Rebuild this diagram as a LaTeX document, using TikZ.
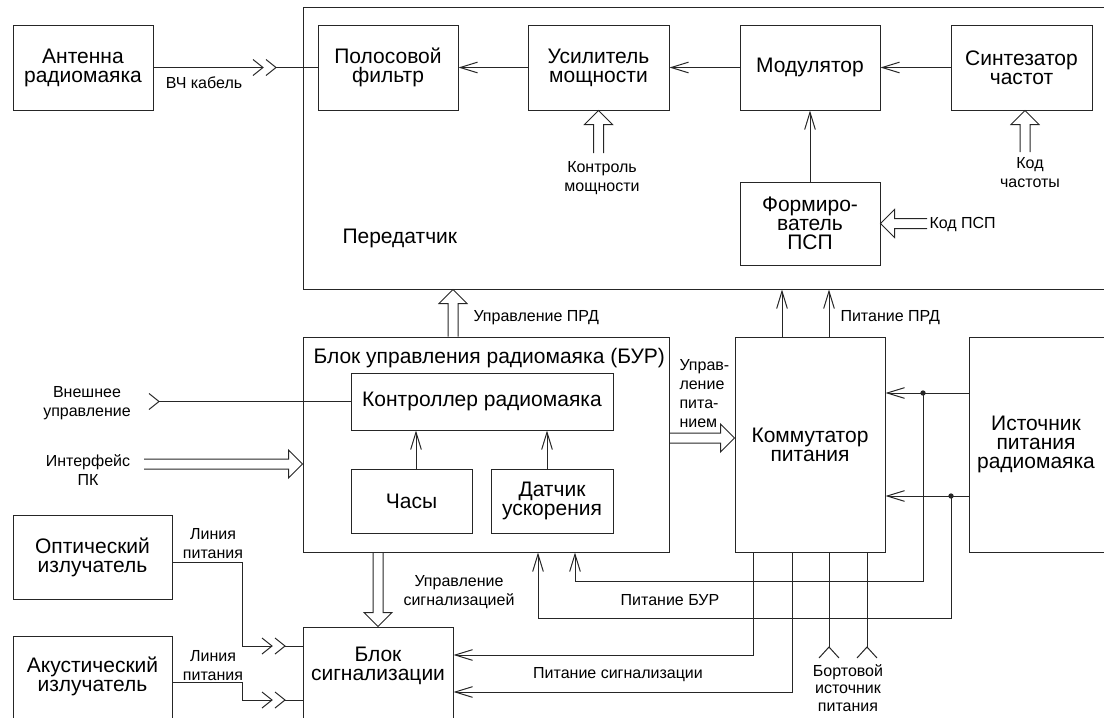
\documentclass[tikz,border=0pt]{standalone}
\usepackage{fontspec}
\setmainfont{Liberation Sans}
\usetikzlibrary{arrows.meta,calc,fit}
\newcommand\fbig{\fontsize{15.75}{14.25}\selectfont}
\newcommand\fsmall{\fontsize{12}{14.25}\selectfont}
\newcommand\hollow[2]{%
  \coordinate (hh) at ($(#2)!10.5pt!(#1)$);
  \draw ($(#1)!3.75pt!90:(#2)$) -- ($(hh)!3.75pt!-90:(#1)$) -- ($(hh)!10.5pt!-90:(#1)$) -- (#2) -- ($(hh)!10.5pt!90:(#1)$) -- ($(hh)!3.75pt!90:(#1)$) -- ($(#1)!3.75pt!-90:(#2)$);
}
\newcommand\chevR[1]{\draw ($(#1)+(-10,-8)$) -- (#1) -- ($(#1)+(-10,8)$);}
\newcommand\chevU[1]{\draw ($(#1)+(-10,11)$) -- (#1) -- ($(#1)+(10,11)$);}
% box: name, x1, y1, x2, y2, text
\newcommand\bx[6]{%
  \node[box, fit={(#2,#3)(#4,#5)}] (#1) {};
  \node[bt] (#1-t) at (#1.center) {#6};
}
\begin{document}
\begin{tikzpicture}[x=0.75pt,y=-0.75pt,line width=0.75pt,draw=black!85,
  box/.style={draw, rectangle, inner sep=0pt},
  bt/.style={inner sep=0pt, align=center, font=\fbig},
  sm/.style={inner sep=0pt, align=center, font=\fsmall},
  arr/.style={-{Straight Barb[length=13pt,width=8pt]}},
  dot/.style={circle, fill=black!85, inner sep=0pt, minimum size=4pt}]
\useasboundingbox (0,0) rectangle (1104,718);
\begin{scope}
\clip (0,0) rectangle (1104,718);
% boxes
\bx{ant}{13}{25}{153}{110}{Антенна\\радиомаяка}
\node[box, fit={(303,7)(1130,289)}] (trans) {};
\node[bt, anchor=west] (ptext) at (342,238) {Передатчик};
\bx{pf}{318}{25}{458}{110}{Полосовой\\фильтр}
\bx{us}{528}{25}{669}{110}{Усилитель\\мощности}
\bx{mod}{740}{25}{880}{110}{Модулятор}
\bx{sint}{951}{25}{1092}{110}{Синтезатор\\частот}
\bx{form}{740}{182}{880}{265}{Формиро-\\ватель\\ПСП}
\node[box, fit={(303,337)(669,552)}] (bur) {};
\node[bt, anchor=west] (burt) at (313,358) {Блок управления радиомаяка (БУР)};
\bx{ctrl}{351}{373}{613}{430}{Контроллер радиомаяка}
\bx{clk}{351}{469}{472}{533}{Часы}
\bx{acc}{491}{469}{613}{533}{Датчик\\ускорения}
\bx{comm}{735}{337}{885}{552}{Коммутатор\\питания}
\node[box, fit={(969,337)(1130,552)}] (src) {};
\node[bt] (srct) at (1036,444) {Источник\\питания\\радиомаяка};
\bx{opt}{13}{515}{172}{599}{Оптический\\излучатель}
\node[box, fit={(13,636)(172,740)}] (aku) {};
\node[bt] (akut) at (92.5,676) {Акустический\\излучатель};
\node[box, fit={(303,627)(453,740)}] (sig) {};
\node[bt] (sigt) at (378,666) {Блок\\сигнализации};
% HF cable
\coordinate (c1) at (263,67.5);
\coordinate (c2) at (276,67.5);
\draw (ant.east) -- (c1);
\chevR{c1}\chevR{c2}
\draw (c2) -- (pf.west);
\node[sm] (vch) at (204,83) {ВЧ кабель};
% transmitter chain
\draw[arr] (us.west) -- (pf.east);
\draw[arr] (mod.west) -- (us.east);
\draw[arr] (sint.west) -- (mod.east);
\draw[arr] (form.north) -- (mod.south);
\coordinate (kps) at (927,223.5);
\hollow{kps}{form.east}
\node[sm, anchor=west] (kpst) at (929,225) {Код ПСП};
\coordinate (kch) at (1025,152);
\coordinate (kch2) at (kch |- sint.south);
\hollow{kch}{kch2}
\node[sm] (kcht) at (1030,173) {Код\\частоты};
\coordinate (km) at (598.5,153);
\coordinate (km2) at (km |- us.south);
\hollow{km}{km2}
\node[sm] (kmt) at (602,178) {Контроль\\мощности};
% BUR -> transmitter
\coordinate (xu) at (453,0);
\coordinate (u1) at (xu |- bur.north);
\coordinate (u2) at (xu |- trans.south);
\hollow{u1}{u2}
\node[sm, anchor=west] (uprd) at (473,318) {Управление ПРД};
% power to transmitter
\coordinate (p1) at (782,0);
\coordinate (p2) at (829,0);
\draw[arr] (p1 |- comm.north) -- (p1 |- trans.south);
\draw[arr] (p2 |- comm.north) -- (p2 |- trans.south);
\node[sm, anchor=west] (pprd) at (840,318) {Питание ПРД};
% power control
\coordinate (up) at (0,438);
\coordinate (up1) at (up -| bur.east);
\coordinate (up2) at (up -| comm.west);
\hollow{up1}{up2}
\node[sm, align=left, anchor=west] (upt) at (679,394) {Управ-\\ление\\пита-\\нием};
% external control
\coordinate (ve) at (159,401.5);
\chevR{ve}
\draw (ve) -- (ctrl.west);
\node[sm] (vet) at (87,403) {Внешнее\\управление};
\coordinate (ik) at (144,464);
\coordinate (ik2) at (ik -| bur.west);
\hollow{ik}{ik2}
\node[sm] (ikt) at (88,470) {Интерфейс\\ПК};
% inside BUR
\coordinate (xa) at (416,0);
\coordinate (xb) at (547,0);
\draw[arr] (xa |- clk.north) -- (xa |- ctrl.south);
\draw[arr] (xb |- acc.north) -- (xb |- ctrl.south);
% source
\coordinate (y1) at (0,393);
\coordinate (y2) at (0,496);
\draw[arr] (y1 -| src.west) -- (y1 -| comm.east);
\draw[arr] (y2 -| src.west) -- (y2 -| comm.east);
\node[dot] (d1) at (923,393) {};
\node[dot] (d2) at (951,496) {};
\coordinate (b1) at (575,581);
\coordinate (b2) at (538,618);
\draw[arr] (d1.center) |- (b1) -- (b1 |- bur.south);
\draw[arr] (d2.center) |- (b2) -- (b2 |- bur.south);
\node[sm] (pbur) at (670,600) {Питание БУР};
% signalling power
\coordinate (s1) at (753,655);
\coordinate (s2) at (792,692);
\draw[arr] (s1 |- comm.south) -- (s1) -- (s1 -| sig.east);
\draw[arr] (s2 |- comm.south) -- (s2) -- (s2 -| sig.east);
\node[sm] (psig) at (618,675) {Питание сигнализации};
% onboard source
\coordinate (bt1) at (829,647);
\coordinate (bt2) at (867,647);
\draw (bt1 |- comm.south) -- (bt1);
\draw (bt2 |- comm.south) -- (bt2);
\chevU{bt1}\chevU{bt2}
\node[sm, font=\fontsize{12}{13.2}\selectfont] (btt) at (848,688) {Бортовой\\источник\\питания};
% signalling control
\coordinate (xs) at (378,0);
\coordinate (us1) at (xs |- bur.south);
\coordinate (us2) at (xs |- sig.north);
\hollow{us1}{us2}
\node[sm] (ust) at (459,592) {Управление\\сигнализацией};
% emitters
\coordinate (oy) at (0,562);
\coordinate (oc) at (242,646);
\coordinate (oa) at (272,646);
\coordinate (ob) at (285,646);
\draw (oy -| opt.east) -| (oc) -- (oa);
\chevR{oa}\chevR{ob}
\draw (ob) -- (ob -| sig.west);
\node[sm] (olt) at (213,544) {Линия\\питания};
\coordinate (ay) at (0,682);
\coordinate (ac) at (242,700);
\coordinate (aa) at (272,700);
\coordinate (ab) at (285,700);
\draw (ay -| aku.east) -| (ac) -- (aa);
\chevR{aa}\chevR{ab}
\draw (ab) -- (ab -| sig.west);
\node[sm] (alt) at (213,666) {Линия\\питания};
\end{scope}
\end{tikzpicture}
\end{document}
